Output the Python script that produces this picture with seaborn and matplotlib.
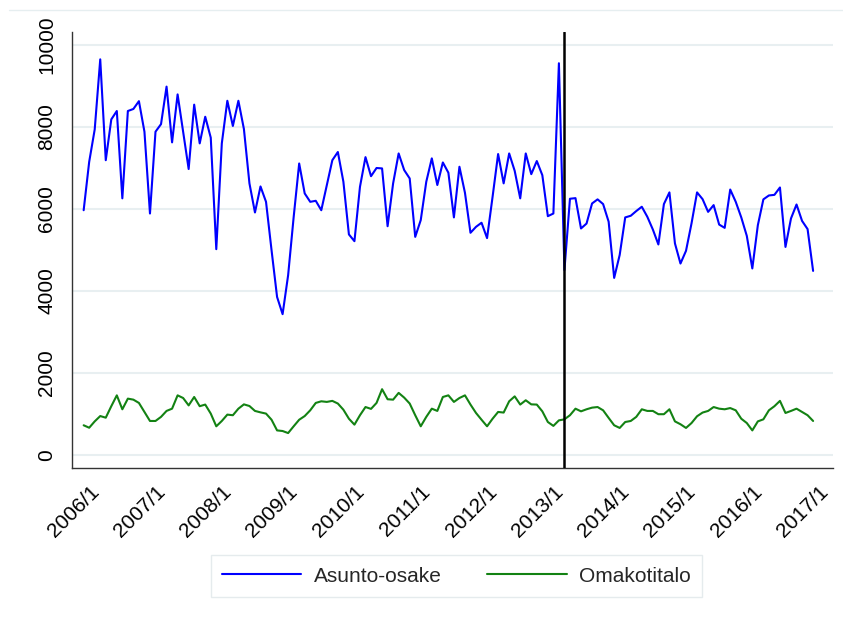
import numpy as np
import pandas as pd
import matplotlib
matplotlib.use("Agg")
import matplotlib.pyplot as plt
from matplotlib.lines import Line2D
import seaborn as sns

# ---- data (monthly, 2005/12 .. 2016/12) ----
start_month = "2005-12"
n_months = 133

asunto_osake = [
    5970, 7150, 7940, 9650, 7190, 8185, 8390, 6260, 8390, 8440,
    8630, 7885, 5890, 7885, 8070, 8985, 7625, 8795, 7885, 6975,
    8545, 7600, 8250, 7740, 5020, 7600, 8640, 8025, 8640, 7950,
    6625, 5915, 6550,
    6175, 4995, 3855, 3435, 4385, 5800, 7110, 6380, 6175, 6200,
    5970, 6580, 7190, 7390, 6665, 5380, 5215, 6540, 7265, 6800,
    7000, 6990, 5580, 6625, 7355, 6950, 6745, 5320, 5730, 6665,
    7235, 6585, 7135,
    6885, 5795, 7030, 6395, 5420, 5565, 5665, 5290, 6300, 7340,
    6625, 7355, 6930, 6260, 7355, 6850, 7170, 6825, 5825, 5890,
    9555, 4510, 6250, 6265, 5525, 5645, 6135, 6235, 6120, 5690,
    4320, 4880,
    5795, 5835, 5950, 6055, 5810, 5500, 5135, 6120, 6405, 5160,
    4670, 4980, 5650, 6405, 6240, 5930, 6095, 5620, 5540, 6475,
    6175, 5795, 5345, 4550, 5605, 6235, 6330, 6345, 6525, 5075,
    5770, 6110, 5710, 5510, 4490,
]

omakotitalo = [
    725, 665, 820, 950, 910, 1190, 1455, 1115, 1375, 1350,
    1270, 1050, 830, 830, 930, 1075, 1130, 1455, 1390, 1210,
    1415, 1190, 1230, 1010, 700, 830, 985, 970, 1130, 1235,
    1195, 1075, 1040,
    1010, 860, 600, 585, 535, 700, 860, 950, 1090, 1270,
    1310, 1295, 1320, 1255, 1105, 885, 740, 970, 1170, 1125,
    1270, 1605, 1360, 1350, 1515, 1400, 1255, 970, 700, 930,
    1130, 1075, 1415,
    1455, 1295, 1390, 1455, 1230, 1025, 860, 700, 885, 1050,
    1035, 1310, 1430, 1230, 1335, 1235, 1230, 1065, 805, 710,
    845, 870, 970, 1130, 1065, 1115, 1155, 1170, 1090, 905,
    725, 660,
    805, 830, 930, 1115, 1075, 1075, 995, 995, 1115, 820,
    750, 660, 780, 945, 1035, 1075, 1170, 1130, 1115, 1145,
    1090, 885, 780, 600, 820, 870, 1090, 1190, 1320, 1025,
    1075, 1130, 1050, 970, 830,
]

series_names = ["Asunto-osake", "Omakotitalo"]
tick_years = list(range(2006, 2018))
tick_labels = [f"{y}/1" for y in tick_years]
y_ticks = [0, 2000, 4000, 6000, 8000, 10000]
break_month = "2013-03"

# ---- build long table ----
periods = pd.period_range(start_month, periods=n_months, freq="M")
p0 = pd.Period(start_month, freq="M")
pos = np.array([(p - p0).n for p in periods])
df = pd.DataFrame({
    "t": np.concatenate([pos, pos]),
    "value": asunto_osake + omakotitalo,
    "series": [series_names[0]] * n_months + [series_names[1]] * n_months,
})
tick_pos = [(pd.Period(f"{y}-01", freq="M") - p0).n for y in tick_years]
break_pos = (pd.Period(break_month, freq="M") - p0).n

# ---- style ----
sns.set_style("white")
plt.rcParams["font.family"] = ["Liberation Sans", "DejaVu Sans"]

fig = plt.figure(figsize=(8.43, 6.18), dpi=100)
ax = fig.add_axes([71.5 / 843, 1 - 468 / 618, (833 - 71.5) / 843, (468 - 32) / 618])

sns.lineplot(data=df, x="t", y="value", hue="series",
             palette={"Asunto-osake": "#0000ff", "Omakotitalo": "#138213"},
             linewidth=1.5, ax=ax, legend=False)

ax.axvline(break_pos, color="black", linewidth=1.8, zorder=5)

ax.set_xlim(-2.2, 135.6)
ax.set_ylim(-317, 10317)
ax.set_xlabel("")
ax.set_ylabel("")

ax.set_yticks(y_ticks)
ax.set_yticklabels([str(v) for v in y_ticks], rotation=90, va="center", ha="right")
ax.set_xticks(tick_pos)
ax.set_xticklabels(tick_labels, rotation=45, ha="right", rotation_mode="anchor")

ax.tick_params(axis="both", which="major", direction="out", length=5, width=1,
               color="#333333", labelsize=15, labelcolor="black")
ax.tick_params(axis="y", pad=6)
ax.tick_params(axis="x", pad=5)

ax.grid(axis="y", color="#e8eff1", linewidth=1.5)
ax.grid(axis="x", visible=False)
ax.set_axisbelow(True)

for side in ["top", "right"]:
    ax.spines[side].set_visible(False)
for side in ["left", "bottom"]:
    ax.spines[side].set_color("#333333")
    ax.spines[side].set_linewidth(1.0)

handles = [Line2D([], [], color="#0000ff", linewidth=1.5),
           Line2D([], [], color="#138213", linewidth=1.5)]
leg = fig.legend(handles, series_names, loc="center",
                 bbox_to_anchor=(456.5 / 843, 1 - 576 / 618),
                 ncol=2, fontsize=15, frameon=True, fancybox=False,
                 handlelength=3.8, columnspacing=2.2, handletextpad=0.6,
                 borderpad=0.55)
leg.get_frame().set_edgecolor("#dfe7e9")
leg.get_frame().set_linewidth(1.0)

fig.add_artist(Line2D([9 / 843, 1], [1 - 9.5 / 618, 1 - 9.5 / 618],
                      color="#e6eef0", linewidth=1.0))

fig.savefig("out.png", dpi=100)
